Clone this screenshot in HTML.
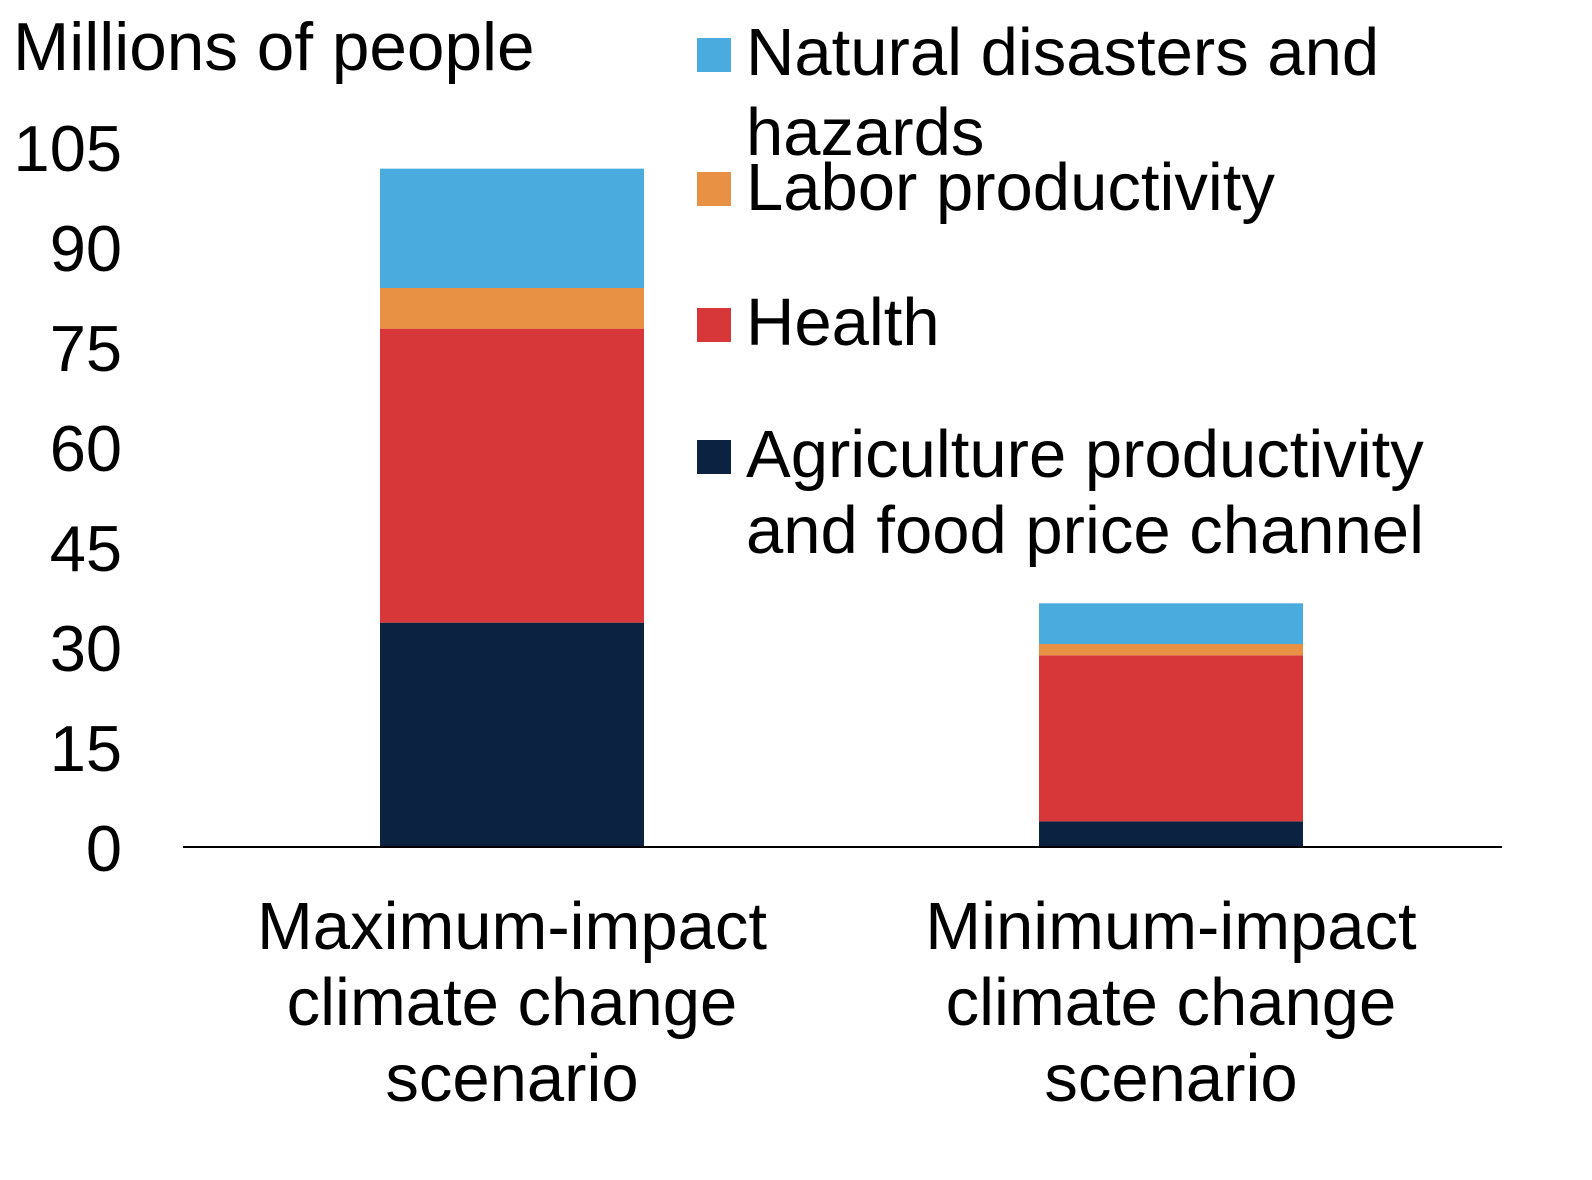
<!DOCTYPE html>
<html><head><meta charset="utf-8"><style>
html,body{margin:0;padding:0;background:#fff}
svg{display:block;font-family:"Liberation Sans",Arial,sans-serif}
</style></head><body>
<svg id="chart" width="1592" height="1180" viewBox="0 0 1592 1180" xmlns="http://www.w3.org/2000/svg">
<text x="13" y="70" font-size="67.5" fill="#000">Millions of people</text>
<g id="yticks"></g>
<g id="bars"></g>
<line x1="183" y1="847" x2="1502" y2="847" stroke="#000" stroke-width="2"/>
<g id="xlabels"></g>
<g font-size="67" fill="#000">
 <g>
  <rect x="697" y="38" width="34" height="34" fill="#4AABDE"/>
  <text x="746" y="75">Natural disasters and</text>
  <text x="746" y="155">hazards</text>
 </g>
 <g>
  <rect x="697" y="172" width="34" height="34" fill="#E89043"/>
  <text x="746" y="210">Labor productivity</text>
 </g>
 <g>
  <rect x="697" y="308" width="34" height="34" fill="#D73738"/>
  <text x="746" y="345">Health</text>
 </g>
 <g>
  <rect x="697" y="440" width="34" height="34" fill="#0B2341"/>
  <text x="746" y="477">Agriculture productivity</text>
  <text x="746" y="553">and food price channel</text>
 </g>
</g>
</svg>
<script>
const categories = [["Maximum-impact","climate change","scenario"],["Minimum-impact","climate change","scenario"]];
const agriculture = [33.5, 3.7];
const health = [44.1, 24.9];
const labor = [6.1, 1.7];
const natural = [17.9, 6.1];
const tickLabels = ["0","15","30","45","60","75","90","105"];

const NS = "http://www.w3.org/2000/svg";
const baseY = 846, pxPerUnit = 700/105;
const centers = [512, 1171], barW = 264;
function yScale(v){ return baseY - v*pxPerUnit; }
function xCenter(i){ return centers[i]; }

const yt = document.getElementById('yticks');
tickLabels.forEach(function(t){
  const el = document.createElementNS(NS,'text');
  
  
  el.setAttribute('x', 122);
  el.setAttribute('y', yScale(parseFloat(t)) + 25);
  el.setAttribute('text-anchor','end');
  el.setAttribute('font-size','65');
  el.textContent = t;
  yt.appendChild(el);
});

const series = [
  {name:'agriculture', vals:agriculture, color:'#0B2341'},
  {name:'health', vals:health, color:'#D73738'},
  {name:'labor', vals:labor, color:'#E89043'},
  {name:'natural', vals:natural, color:'#4AABDE'}
];
const bars = document.getElementById('bars');
categories.forEach(function(c, i){
  let cum = 0;
  series.forEach(function(s){
    const v = s.vals[i];
    const r = document.createElementNS(NS,'rect');
    
    
    r.setAttribute('x', xCenter(i) - barW/2);
    r.setAttribute('y', yScale(cum + v));
    r.setAttribute('width', barW);
    r.setAttribute('height', v*pxPerUnit);
    r.setAttribute('fill', s.color);
    bars.appendChild(r);
    cum += v;
  });
});

const xl = document.getElementById('xlabels');
const lineY = [949, 1025, 1101];
categories.forEach(function(c, i){
  c.forEach(function(line, j){
    const t = document.createElementNS(NS,'text');
    
    
    t.setAttribute('x', xCenter(i));
    t.setAttribute('y', lineY[j]);
    t.setAttribute('text-anchor','middle');
    t.setAttribute('font-size','67');
    t.textContent = line;
    xl.appendChild(t);
  });
});
</script>
</body></html>
